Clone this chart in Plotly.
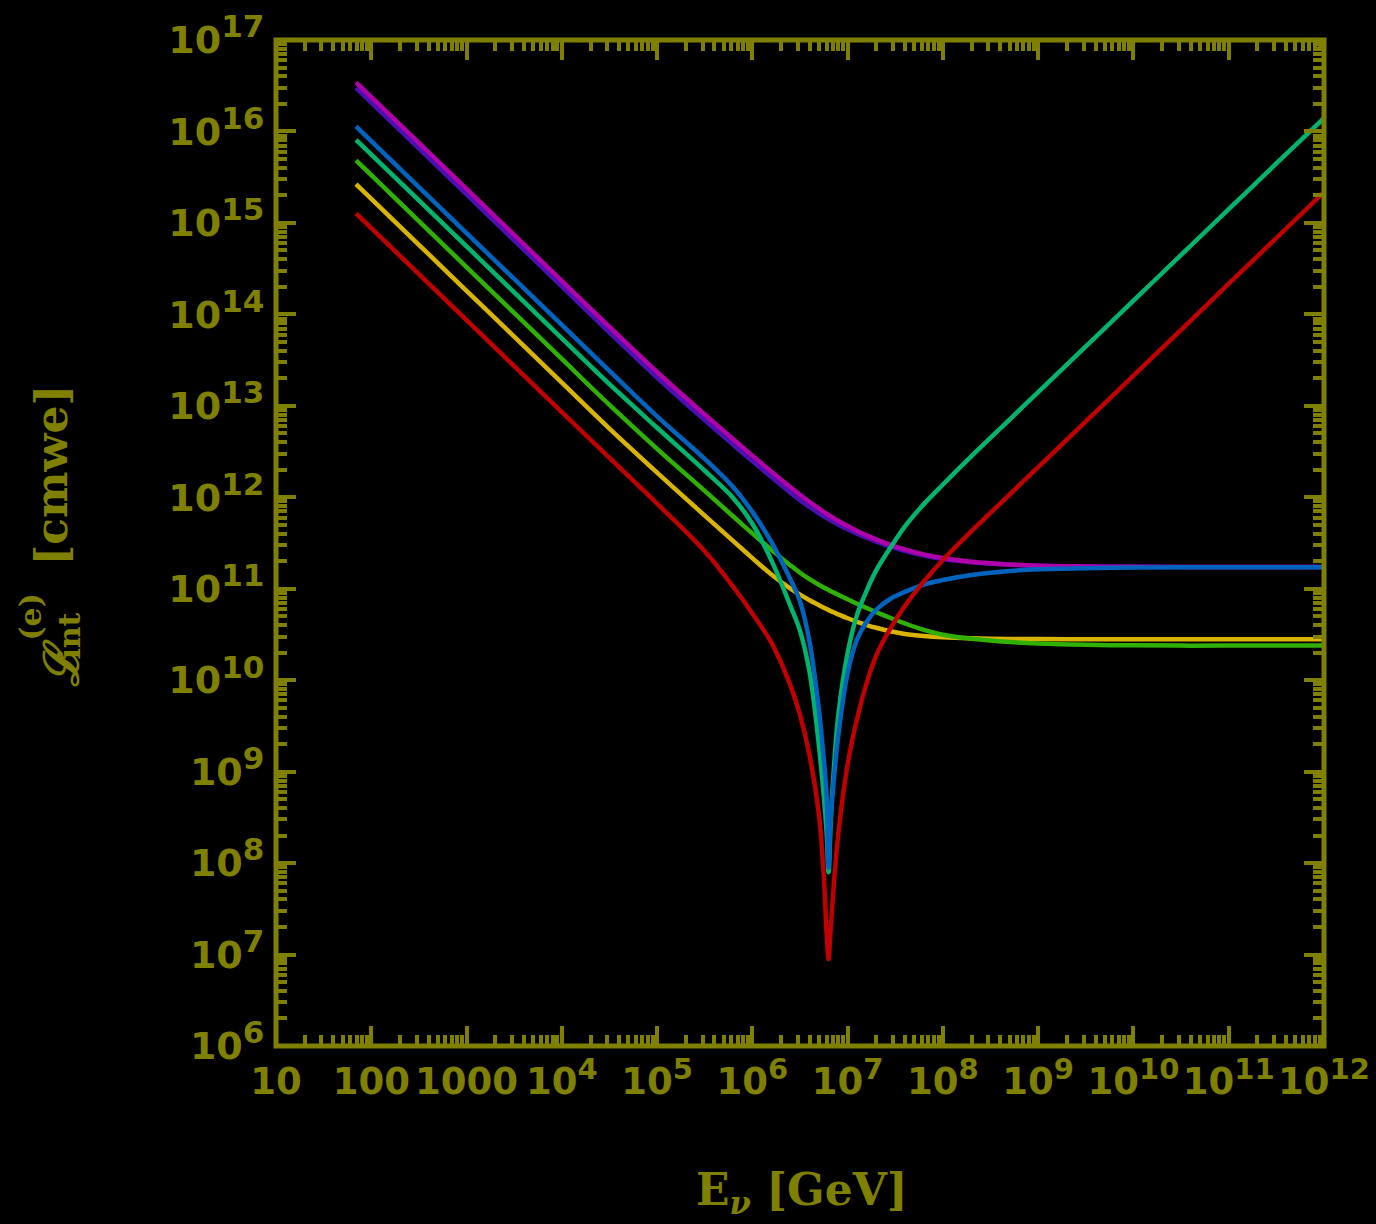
import plotly.graph_objects as go

# ---- data ----
log10_E = [1.84, 2.5, 3.0, 3.5, 4.0, 4.5, 5.0, 5.5, 5.8, 6.0, 6.2, 6.4, 6.5, 6.6, 6.7,
           6.75, 6.78, 6.80, 6.82, 6.85, 6.9, 7.0, 7.1, 7.2, 7.3, 7.45, 7.6, 7.8,
           8.0, 8.3, 8.7, 9.0, 9.5, 10.0, 10.5, 11.0, 11.5, 12.0]

log10_L_violet = [16.477, 15.814, 15.311, 14.809, 14.306, 13.804, 13.31, 12.845, 12.575, 12.395, 12.22, 12.05,
                  11.968, 11.895, 11.825, 11.792, 11.774, 11.761, 11.749, 11.732, 11.703, 11.65, 11.602,
                  11.557, 11.516, 11.46, 11.414, 11.363, 11.325, 11.289, 11.262, 11.252, 11.244, 11.24,
                  11.238, 11.238, 11.238, 11.238]
log10_L_magenta = [16.537, 15.874, 15.371, 14.869, 14.366, 13.864, 13.37, 12.905, 12.635, 12.455, 12.28, 12.11,
                   12.028, 11.95, 11.875, 11.84, 11.82, 11.806, 11.793, 11.774, 11.743, 11.685, 11.632,
                   11.584, 11.54, 11.48, 11.43, 11.375, 11.335, 11.295, 11.265, 11.252, 11.244, 11.24,
                   11.238, 11.238, 11.238, 11.238]
log10_L_yellow = [15.424, 14.761, 14.258, 13.756, 13.253, 12.751, 12.27, 11.80, 11.52, 11.335, 11.155, 11.0,
                  10.935, 10.875, 10.82, 10.793, 10.777, 10.767, 10.757, 10.742, 10.72, 10.677, 10.638,
                  10.603, 10.573, 10.535, 10.506, 10.483, 10.469, 10.458, 10.451, 10.449, 10.447, 10.447,
                  10.447, 10.447, 10.447, 10.447]
log10_L_green = [15.683, 15.02, 14.517, 14.015, 13.512, 13.01, 12.53, 12.07, 11.79, 11.605, 11.425, 11.255,
                 11.175, 11.105, 11.042, 11.013, 10.997, 10.986, 10.975, 10.96, 10.934, 10.884, 10.836,
                 10.789, 10.744, 10.68, 10.621, 10.55, 10.497, 10.452, 10.417, 10.401, 10.387, 10.381,
                 10.378, 10.378, 10.378, 10.378]
log10_L_teal = [15.909, 15.246, 14.743, 14.241, 13.738, 13.236, 12.76, 12.29, 11.99, 11.71, 11.31, 10.81,
                10.54, 10.09, 9.27, 8.73, 8.33, 7.90, 8.40, 8.95, 9.60, 10.30, 10.72,
                10.98, 11.20, 11.45, 11.68, 11.925, 12.14, 12.45, 12.85, 13.15, 13.65, 14.15,
                14.65, 15.15, 15.65, 16.146]
log10_L_blue = [16.055, 15.392, 14.889, 14.387, 13.884, 13.382, 12.885, 12.42, 12.11, 11.84, 11.51, 11.10,
                10.86, 10.42, 9.66, 9.13, 8.72, 7.95, 8.45, 8.85, 9.38, 10.08, 10.45,
                10.64, 10.77, 10.89, 10.965, 11.045, 11.095, 11.15, 11.193, 11.212, 11.225, 11.232,
                11.235, 11.236, 11.236, 11.236]
log10_L_red = [15.103, 14.44, 13.937, 13.435, 12.932, 12.43, 11.93, 11.41, 11.02, 10.73, 10.41, 9.94,
               9.62, 9.18, 8.52, 7.85, 7.22, 6.95, 7.25, 7.70, 8.30, 9.08, 9.58,
               9.97, 10.27, 10.57, 10.81, 11.08, 11.315, 11.63, 12.03, 12.33, 12.83, 13.33,
               13.83, 14.335, 14.835, 15.337]

x_tick_exp = list(range(1, 13))
y_tick_exp = list(range(6, 18))
SUP_X = '<sup><span style="font-size:29px">%d</span></sup>'
SUP_Y = '<sup><span style="font-size:31px">%d</span></sup>'
x_tick_text = ["10", "100", "1000"] + [("10" + SUP_X) % k for k in range(4, 13)]
y_tick_text = [("10" + SUP_Y) % k for k in y_tick_exp]

# ---- styling ----
OLIVE = "#808000"
series = [
    (log10_L_violet, "#4A10B4"),
    (log10_L_magenta, "#B000A8"),
    (log10_L_yellow, "#D8B400"),
    (log10_L_green, "#30B000"),
    (log10_L_teal, "#00B46E"),
    (log10_L_blue, "#0064BE"),
    (log10_L_red, "#BE0000"),
]

E_vals = [10 ** v for v in log10_E]
fig = go.Figure()
for vals, col in series:
    fig.add_trace(go.Scatter(x=E_vals, y=[10 ** v for v in vals], mode="lines",
                             line=dict(color=col, width=4.5, shape="spline", smoothing=1.0),
                             showlegend=False, hoverinfo="skip"))

minor_x = [m * 10 ** k for k in range(1, 12) for m in range(2, 10)]
minor_y = [m * 10 ** k for k in range(6, 17) for m in range(2, 10)]

common = dict(type="log", ticks="inside", ticklen=20, tickwidth=4, tickcolor=OLIVE,
              showline=True, linewidth=1, linecolor=OLIVE, mirror="allticks",
              showgrid=False, zeroline=False, tickmode="array",
              automargin=False, tickangle=0, ticklabeloverflow="allow")

fig.update_xaxes(range=[1, 12], tickvals=[10 ** k for k in x_tick_exp], ticktext=x_tick_text,
                 ticklabelstandoff=3,
                 tickfont=dict(family="DejaVu Sans", size=37, color=OLIVE, weight="bold"),
                 minor=dict(tickmode="array", tickvals=minor_x, ticks="inside", ticklen=11,
                            tickwidth=4, tickcolor=OLIVE, showgrid=False), **common)
fig.update_yaxes(range=[6, 17], tickvals=[10 ** k for k in y_tick_exp], ticktext=y_tick_text,
                 ticklabelstandoff=3,
                 tickfont=dict(family="DejaVu Sans", size=38, color=OLIVE, weight="bold"),
                 minor=dict(tickmode="array", tickvals=minor_y, ticks="inside", ticklen=11,
                            tickwidth=4, tickcolor=OLIVE, showgrid=False), **common)

# frame drawn centred on the plot-area border
fig.add_shape(type="rect", xref="paper", yref="paper", x0=0, x1=1, y0=0, y1=1,
              line=dict(color=OLIVE, width=5), layer="above")

L, R, T, B = 275.5, 52, 40, 178
W, H = 1376, 1224
pw, ph = W - L - R, H - T - B

def px(x):
    return (x - L) / pw

def py(y):
    return (H - B - y) / ph

title_font = dict(family="DejaVu Serif", size=44, color=OLIVE, weight="bold")
ann = [
    dict(text="E<sub><i>ν</i></sub> [GeV]", x=px(802), y=py(1192), font=title_font),
    dict(text="[cmwe]", x=px(50), y=py(475), font=title_font, textangle=-90),
    dict(text="<i>ℒ</i>", x=px(60), y=py(663), font=dict(family="DejaVu Serif", size=48,
                                                          color=OLIVE, weight="bold"), textangle=-90),
    dict(text="int", x=px(68), y=py(636), font=dict(family="DejaVu Serif", size=30,
                                                     color=OLIVE, weight="bold"), textangle=-90),
    dict(text="(e)", x=px(30), y=py(617), font=dict(family="DejaVu Serif", size=30,
                                                     color=OLIVE, weight="bold"), textangle=-90),
]
for a in ann:
    fig.add_annotation(xref="paper", yref="paper", showarrow=False,
                       xanchor="center", yanchor="middle", **a)

fig.update_layout(width=W, height=H, margin=dict(l=L, r=R, t=T, b=B, autoexpand=False),
                  paper_bgcolor="black", plot_bgcolor="black")

fig.write_html("out.html", config={"displayModeBar": False},
               post_script="document.body.style.margin='0';document.body.style.background='black';")
